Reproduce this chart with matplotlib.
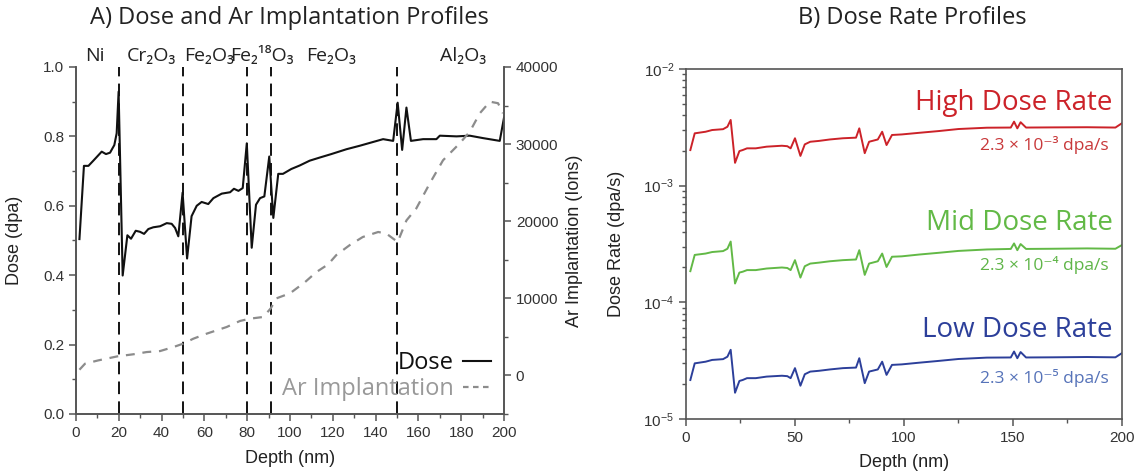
import matplotlib
matplotlib.use("Agg")
import matplotlib.pyplot as plt
from matplotlib.ticker import MultipleLocator, LogLocator, NullFormatter

plt.rcParams['font.family'] = ['Liberation Sans', 'DejaVu Sans']
TXT_FONT = ['Open Sans', 'DejaVu Sans']

# ---- panel A: dose profile (nm, dpa) ----
dose_depth = [1.6, 3.7, 5.8, 8.1, 12.0, 14.0, 15.9, 17.9, 19.0, 19.9,
              21.8, 24.0, 25.7, 27.9, 29.9, 31.8, 33.8, 36.1, 39.3, 42.4,
              44.7, 46.3, 47.8, 49.8, 51.9, 54.0, 56.4, 58.7, 61.8, 64.2,
              68.1, 72.0, 73.8, 75.9, 77.9, 79.8, 82.1, 84.1, 86.0, 88.0,
              90.3, 92.2, 94.5, 96.7, 100.6, 104.5, 109.2, 113.9, 119.3, 126.4,
              132.6, 138.9, 143.5, 148.2, 150.3, 152.4, 154.4, 156.5, 162.2, 168.4,
              170.0, 177.8, 184.0, 190.2, 198.0, 200.0]
dose_dpa = [0.504, 0.715, 0.715, 0.730, 0.756, 0.749, 0.753, 0.775, 0.809, 0.929,
            0.399, 0.515, 0.505, 0.528, 0.525, 0.519, 0.533, 0.538, 0.541, 0.550,
            0.548, 0.536, 0.512, 0.638, 0.448, 0.570, 0.600, 0.611, 0.605, 0.622,
            0.635, 0.639, 0.649, 0.643, 0.651, 0.780, 0.479, 0.603, 0.622, 0.627,
            0.742, 0.565, 0.692, 0.692, 0.706, 0.716, 0.730, 0.739, 0.749, 0.763,
            0.773, 0.784, 0.792, 0.787, 0.897, 0.761, 0.883, 0.787, 0.792, 0.792,
            0.802, 0.800, 0.802, 0.795, 0.787, 0.854]

# Ar implantation (ions)
ar_depth = [1.6, 4.2, 10.4, 19.3, 27.0, 33.0, 39.3, 45.5, 50.0, 54.8,
            61.0, 70.4, 76.6, 81.3, 87.5, 91.0, 93.7, 100.0, 107.0, 112.3,
            117.8, 121.6, 127.9, 134.0, 141.2, 145.0, 150.3, 154.4, 159.0, 165.3,
            171.5, 179.3, 184.0, 188.7, 193.4, 197.2, 199.5]
ar_ions = [740, 1520, 1950, 2470, 2750, 3030, 3160, 3680, 4110, 4760,
           5410, 6280, 7060, 7360, 7580, 8700, 10000, 10650, 12100, 13400,
           14400, 15600, 16900, 17950, 18600, 18400, 17300, 20100, 21650, 24900,
           27900, 30100, 31600, 34000, 35500, 35300, 34000]

interfaces = [20, 50, 80, 91, 150]
layer_names = ['Ni', 'Cr₂O₃', 'Fe₂O₃', 'Fe₂¹⁸O₃', 'Fe₂O₃', 'Al₂O₃']
layer_centers = [9, 35, 62, 87, 119, 181]

# ---- panel B: dose rate (dpa/s) ----
rate_depth = [2, 4, 9, 12, 17, 19, 20.5, 22.5, 24.5, 26,
              28, 32, 37, 44, 46.5, 48, 50, 52.5, 54.5, 57,
              61, 66, 72, 78, 79.5, 82, 84, 88, 90, 92,
              94.5, 99, 107, 116, 125, 138, 149, 150.5, 152, 153.5,
              156, 168, 184, 197, 200]
rate_high = [2.02, 2.81, 2.90, 3.00, 3.05, 3.20, 3.66, 1.57, 1.98, 2.02,
             2.09, 2.09, 2.16, 2.20, 2.18, 2.09, 2.55, 1.80, 2.26, 2.38,
             2.42, 2.49, 2.55, 2.58, 3.10, 1.90, 2.38, 2.49, 2.90, 2.23,
             2.72, 2.75, 2.84, 2.94, 3.06, 3.14, 3.15, 3.54, 3.10, 3.50,
             3.15, 3.16, 3.17, 3.15, 3.43]  # x1e-3
rate_mid = [1.85, 2.55, 2.62, 2.70, 2.75, 2.88, 3.32, 1.45, 1.80, 1.83,
            1.89, 1.89, 1.95, 1.99, 1.97, 1.89, 2.30, 1.63, 2.04, 2.15,
            2.19, 2.25, 2.30, 2.33, 2.80, 1.72, 2.15, 2.25, 2.62, 2.01,
            2.46, 2.48, 2.57, 2.66, 2.76, 2.84, 2.87, 3.20, 2.80, 3.16,
            2.87, 2.88, 2.90, 2.88, 3.10]  # x1e-4
rate_low = [2.16, 3.00, 3.10, 3.21, 3.26, 3.42, 3.92, 1.68, 2.12, 2.16,
            2.24, 2.24, 2.31, 2.35, 2.33, 2.24, 2.73, 1.93, 2.42, 2.55,
            2.59, 2.66, 2.73, 2.76, 3.32, 2.03, 2.55, 2.66, 3.10, 2.39,
            2.91, 2.94, 3.04, 3.15, 3.27, 3.36, 3.37, 3.79, 3.32, 3.75,
            3.37, 3.38, 3.40, 3.38, 3.67]  # x1e-5

rate_series = [
    ('High Dose Rate', '2.3 × 10⁻³ dpa/s', rate_high, 1e-3, '#cc2229', '#c8383a', 0.903, 0.783),
    ('Mid Dose Rate', '2.3 × 10⁻⁴ dpa/s', rate_mid, 1e-4, '#62b946', '#5fb548', 0.560, 0.440),
    ('Low Dose Rate', '2.3 × 10⁻⁵ dpa/s', rate_low, 1e-5, '#2c3f9a', '#5673b9', 0.254, 0.117),
]

SPINE = '#555555'
TICKC = '#333333'


def style_axis(ax):
    for s in ax.spines.values():
        s.set_color(SPINE)
        s.set_linewidth(1.2)
    ax.tick_params(which='both', direction='out', color=SPINE, labelcolor=TICKC,
                   labelsize=11)
    ax.tick_params(which='major', length=5, width=1.1)
    ax.tick_params(which='minor', length=3, width=1.0)


fig = plt.figure(figsize=(11.38, 4.76), dpi=100)

# ================= A =================
ax = fig.add_axes([0.0668, 0.1303, 0.3761, 0.7290])
ax2 = ax.twinx()

for xi in interfaces:
    ax.axvline(xi, color='black', lw=1.3, dashes=(7, 4), zorder=1)
l1, = ax.plot(dose_depth, dose_dpa, color='#111111', lw=1.5, zorder=3)
l2, = ax2.plot(ar_depth, ar_ions, color='#8c8c8c', lw=1.6, dashes=(4, 3.5))

ax.set_xlim(0, 200)
ax.set_ylim(0, 1.0)
ax2.set_ylim(-5000, 40000)
ax.xaxis.set_major_locator(MultipleLocator(20))
ax.xaxis.set_minor_locator(MultipleLocator(10))
ax.yaxis.set_major_locator(MultipleLocator(0.2))
ax.yaxis.set_minor_locator(MultipleLocator(0.1))
ax2.yaxis.set_major_locator(MultipleLocator(10000))
ax2.yaxis.set_minor_locator(MultipleLocator(5000))
ax.yaxis.set_major_formatter(plt.FormatStrFormatter('%.1f'))
for a in (ax, ax2):
    style_axis(a)
    a.spines['top'].set_visible(False)

ax.set_xlabel('Depth (nm)', fontsize=13, color='#222222')
ax.set_ylabel('Dose (dpa)', fontsize=13, color='#222222')
ax2.set_ylabel('Ar Implantation (Ions)', fontsize=13, color='#222222')
ax.xaxis.set_label_coords(0.5, -0.105)
ax.yaxis.set_label_coords(-0.125, 0.5)
ax2.yaxis.set_label_coords(1.145, 0.5)

for name, xc in zip(layer_names, layer_centers):
    ax.text(xc, 1.006, name, ha='center', va='bottom', fontsize=14,
            family=TXT_FONT, color='#222222', transform=ax.get_xaxis_transform())

leg = ax2.legend(handles=[l1, l2], labels=['Dose', 'Ar Implantation'],
                 loc='lower right', bbox_to_anchor=(1.02, -0.025), frameon=False,
                 markerfirst=False, handlelength=1.2, handletextpad=0.4,
                 labelspacing=0.1, prop={'family': TXT_FONT, 'size': 17})
for txt, c in zip(leg.get_texts(), ['#111111', '#999999']):
    txt.set_color(c)
leg.legend_handles[1].set_dashes((2.5, 2))

fig.text(0.254, 0.962, 'A) Dose and Ar Implantation Profiles', ha='center', va='center',
         fontsize=17, family=TXT_FONT, color='#222222')

# ================= B =================
bx = fig.add_axes([0.6028, 0.1197, 0.3831, 0.7353])
for label, sub, vals, unit, lc, sc, ty, sy in rate_series:
    bx.plot(rate_depth, [v * unit for v in vals], color=lc, lw=1.4)
    bx.text(0.979, ty, label, transform=bx.transAxes, ha='right', va='center',
            fontsize=20, family=TXT_FONT, color=lc)
    bx.text(0.970, sy, sub, transform=bx.transAxes, ha='right', va='center',
            fontsize=12.5, family=TXT_FONT, color=sc)

bx.set_yscale('log')
bx.set_xlim(0, 200)
bx.set_ylim(1e-5, 1e-2)
bx.xaxis.set_major_locator(MultipleLocator(50))
bx.xaxis.set_minor_locator(MultipleLocator(25))
bx.yaxis.set_major_locator(LogLocator(base=10))
bx.yaxis.set_minor_locator(LogLocator(base=10, subs=range(2, 10)))
bx.yaxis.set_minor_formatter(NullFormatter())
style_axis(bx)
bx.tick_params(top=False, right=False)
bx.set_xlabel('Depth (nm)', fontsize=13, color='#222222')
bx.set_ylabel('Dose Rate (dpa/s)', fontsize=13, color='#222222')
bx.xaxis.set_label_coords(0.5, -0.10)
bx.yaxis.set_label_coords(-0.14, 0.5)

fig.text(0.802, 0.962, 'B) Dose Rate Profiles', ha='center', va='center',
         fontsize=17, family=TXT_FONT, color='#222222')

fig.savefig('out.png', dpi=100)
